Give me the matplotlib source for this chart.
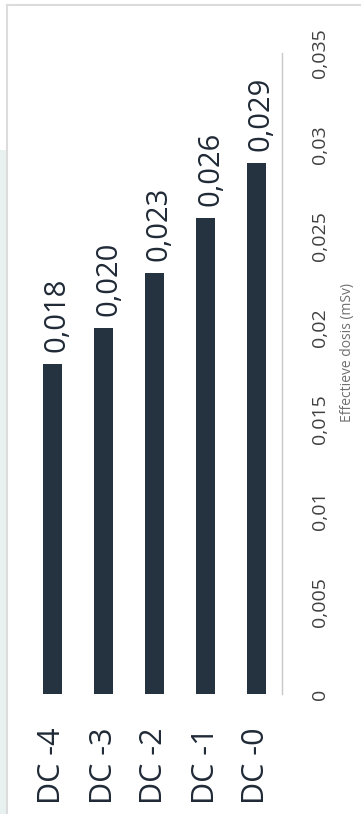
import numpy as np
import matplotlib
matplotlib.use("Agg")
import matplotlib.pyplot as plt
from matplotlib.patches import Rectangle
from matplotlib.lines import Line2D
from matplotlib.ticker import FuncFormatter

categories = ["DC -4", "DC -3", "DC -2", "DC -1", "DC -0"]
dose = [0.018, 0.020, 0.023, 0.026, 0.029]
dose_labels = ["0,018", "0,020", "0,023", "0,026", "0,029"]
dose_ticks = [0, 0.005, 0.01, 0.015, 0.02, 0.025, 0.03, 0.035]
axis_title = "Effectieve dosis (mSv)"

bar_color = "#253240"
text_color = "#1f2a36"

plt.rcParams["font.family"] = ["Open Sans", "DejaVu Sans"]

W, H = 361, 814
fig = plt.figure(figsize=(W / 100, H / 100), dpi=100)
fig.patch.set_facecolor("white")

# page frame: light strip on the left plus thin grey border
fig.patches.append(Rectangle((0, 0), 6 / W, (H - 150) / H, transform=fig.transFigure,
                             facecolor="#e8f0f0", edgecolor="none", zorder=0))
fig.lines.append(Line2D([6.5 / W, 6.5 / W], [0, 1 - 5 / H], transform=fig.transFigure,
                        color="#dcdcdc", lw=1.5))
fig.lines.append(Line2D([6.5 / W, 1], [1 - 5 / H, 1 - 5 / H], transform=fig.transFigure,
                        color="#dcdcdc", lw=1.5))

# axes placed in pixel terms
x0, x1 = 27, 282
y_top, y_zero = 53, 694
ax = fig.add_axes([x0 / W, (H - y_zero) / H, (x1 - x0) / W, (y_zero - y_top) / H])
ax.set_facecolor("none")

pos = np.arange(len(categories))
bars = ax.bar(pos, dose, width=0.36, color=bar_color, zorder=2)

ax.set_xlim(-0.5, len(categories) - 0.5)
ax.set_ylim(0, 0.035)

for b, lab in zip(bars, dose_labels):
    ax.annotate(lab, (b.get_x() + b.get_width() / 2, b.get_height()),
                xytext=(5, 12), textcoords="offset pixels",
                rotation=90, ha="center", va="bottom",
                fontsize=21, color=text_color)

ax.set_xticks(pos, labels=categories)
ax.tick_params(axis="x", length=0, pad=24, labelrotation=90,
               labelsize=22, labelcolor=text_color)

ax.yaxis.tick_right()
ax.set_yticks(dose_ticks)
ax.yaxis.set_major_formatter(FuncFormatter(lambda v, _: f"{v:g}".replace(".", ",")))
ax.tick_params(axis="y", length=0, pad=21, labelrotation=90,
               labelsize=14, labelcolor="#404040")
for t in ax.get_yticklabels():
    t.set_va("center")

for side in ["top", "left", "bottom"]:
    ax.spines[side].set_visible(False)
ax.spines["right"].set_color("#c8c8c8")
ax.spines["right"].set_linewidth(1)

fig.text(347 / W, 1 - 352 / H, axis_title, rotation=90, ha="center", va="center",
         fontsize=10, color="#707070")

fig.savefig("out.png", dpi=100)
